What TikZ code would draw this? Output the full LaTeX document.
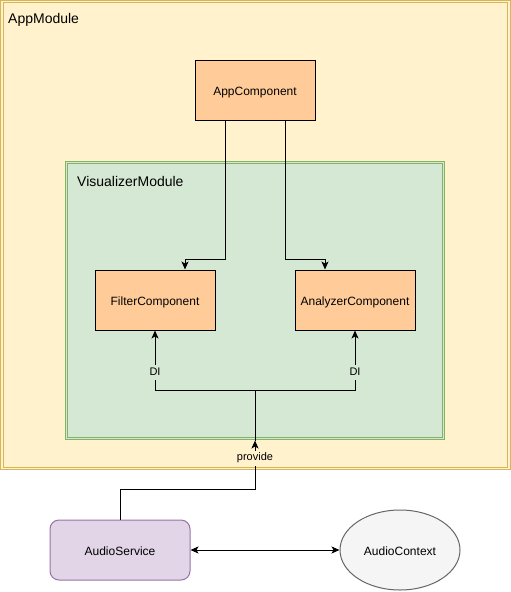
\documentclass[tikz,border=0pt]{standalone}
\usepackage{fontspec}
\setmainfont{Liberation Sans}
\usetikzlibrary{arrows.meta,calc,shapes.geometric}
\definecolor{appfill}{RGB}{255,242,204}
\definecolor{appline}{RGB}{214,182,86}
\definecolor{vizfill}{RGB}{213,232,212}
\definecolor{vizline}{RGB}{130,179,102}
\definecolor{compfill}{RGB}{255,204,153}
\definecolor{svcfill}{RGB}{225,213,231}
\definecolor{svcline}{RGB}{150,115,166}
\definecolor{ctxfill}{RGB}{245,245,245}
\definecolor{ctxline}{RGB}{102,102,102}

\begin{document}
\begin{tikzpicture}[x=1pt, y=-1pt]
            \tikzstyle{module} = [draw, line width=1pt, double distance=1.5pt, inner sep=0, outer sep=2pt]
            \tikzstyle{modname} = [anchor=west, inner sep=0, font=\fontsize{14}{16}\selectfont]
            \tikzstyle{boxtext} = [text height=11.5pt, text depth=1.5pt, font=\fontsize{12}{14}\selectfont]
            \tikzstyle{component} = [boxtext, draw, fill=compfill, line width=1pt, minimum width=120pt, minimum height=60pt]
            \tikzstyle{wire} = [line width=1pt, -{Stealth[length=8pt, width=7pt, inset=2pt]}]
            \tikzstyle{wirelabel} = [inner sep=1pt, font=\fontsize{11}{13}\selectfont]
            \useasboundingbox (0,0) rectangle (511,592);

            \node[module, draw=appline, double=appfill, fill=appfill, minimum width=507pt, minimum height=467pt] (appmod) at (255.5,235) {};
            \node[modname] (appmodname) at (8,20) {AppModule};
            \node[component] (appcomp) at (255,90) {AppComponent};

            \node[module, draw=vizline, double=vizfill, fill=vizfill, minimum width=377pt, minimum height=276pt] (vizmod) at (255,300.5) {};
            \node[modname] (vizmodname) at (77,181) {VisualizerModule};
            \node[component] (filter) at (155,300) {FilterComponent};
            \node[component] (analyzer) at (355,300) {AnalyzerComponent};

            \node[boxtext, draw=svcline, fill=svcfill, line width=1pt, rounded corners=9pt, minimum width=140pt, minimum height=60pt] (svc) at (120,550) {AudioService};
            \node[boxtext, ellipse, draw=ctxline, fill=ctxfill, line width=1pt, inner sep=0, minimum width=120pt, minimum height=80pt] (ctx) at (400,550) {AudioContext};

            \draw[wire] ($(appcomp.south)+(-30,0)$) |- ($(filter.north)+(30,-10)$) -- ($(filter.north)+(30,0)$);
            \draw[wire] ($(appcomp.south)+(30,0)$) |- ($(analyzer.north)+(-30,-10)$) -- ($(analyzer.north)+(-30,0)$);

            \draw[wire] (vizmod.south) -- ++(0,-50) -| node[wirelabel, fill=vizfill, pos=0.65]{\strut DI} (filter.south);
            \draw[wire] (vizmod.south) -- ++(0,-50) -| node[wirelabel, fill=vizfill, pos=0.65]{\strut DI} (analyzer.south);
            \draw[wire] (svc.north) -- ++(0,-30) -| node[wirelabel, fill=appfill, pos=0.82]{\strut provide} (vizmod.south);

            \draw[wire, {Stealth[length=8pt, width=7pt, inset=2pt]}-{Stealth[length=8pt, width=7pt, inset=2pt]}] (svc) -- (ctx);
        \end{tikzpicture}
\end{document}
